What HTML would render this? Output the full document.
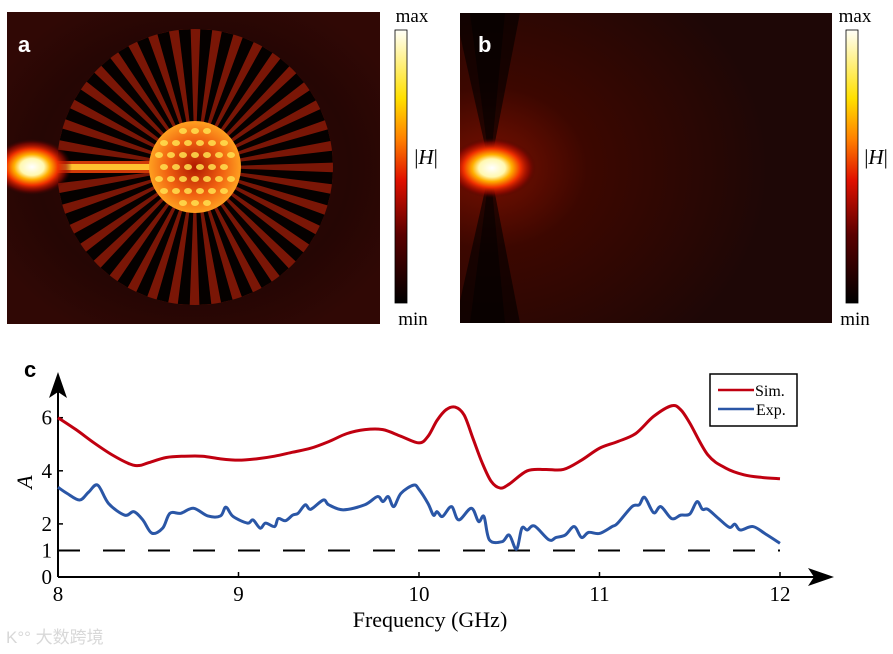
<!DOCTYPE html>
<html><head><meta charset="utf-8">
<style>
html,body{margin:0;padding:0;background:#fff;}
body{width:893px;height:654px;position:relative;overflow:hidden;font-family:"Liberation Serif",serif;}
svg{position:absolute;left:0;top:0;}
</style></head>
<body>
<svg id="fig" width="893" height="654" viewBox="0 0 893 654" xmlns="http://www.w3.org/2000/svg">
<defs>
<linearGradient id="cbar" x1="0" y1="1" x2="0" y2="0">
<stop offset="0" stop-color="#000"/><stop offset="0.25" stop-color="#5a0000"/><stop offset="0.45" stop-color="#e01000"/><stop offset="0.6" stop-color="#ff8000"/><stop offset="0.75" stop-color="#ffe000"/><stop offset="1" stop-color="#fffff8"/>
</linearGradient>
<radialGradient id="srcA" cx="0.5" cy="0.5" r="0.5">
<stop offset="0" stop-color="#ffffff"/><stop offset="0.3" stop-color="#fff8b0"/><stop offset="0.45" stop-color="#ffb000"/><stop offset="0.65" stop-color="#f03000"/><stop offset="0.85" stop-color="#a00800" stop-opacity="0.6"/><stop offset="1" stop-color="#400000" stop-opacity="0"/>
</radialGradient>
<radialGradient id="bgB" cx="0.08" cy="0.5" r="0.75">
<stop offset="0" stop-color="#7a1000"/><stop offset="0.35" stop-color="#3c0700"/><stop offset="1" stop-color="#1e0706"/>
</radialGradient>
<radialGradient id="bgA" cx="0.5" cy="0.5" r="0.6">
<stop offset="0" stop-color="#3a0804"/><stop offset="0.7" stop-color="#250604"/><stop offset="1" stop-color="#300805"/>
</radialGradient>
<radialGradient id="core" cx="0.5" cy="0.5" r="0.5">
<stop offset="0" stop-color="#b01800"/><stop offset="0.6" stop-color="#f06010"/><stop offset="1" stop-color="#ffa020"/>
</radialGradient>
<clipPath id="clipA"><rect x="7" y="12" width="373" height="312"/></clipPath>
<clipPath id="clipB"><rect x="460" y="13" width="372" height="310"/></clipPath>
</defs>

<!-- Panel a -->
<g clip-path="url(#clipA)">
<rect x="7" y="12" width="373" height="312" fill="url(#bgA)"/>
<g id="ring"></g>
<rect x="20" y="161" width="130" height="12" fill="#d03a08"/>
<rect x="55" y="164" width="95" height="6" fill="#ffc030"/>
<ellipse cx="32" cy="167" rx="40" ry="28" fill="url(#srcA)"/>
<circle cx="195" cy="167" r="46" fill="url(#core)"/>
<g id="coreDots"></g>
</g>
<text x="18" y="52" font-family="Liberation Sans, sans-serif" font-weight="bold" font-size="22" fill="#fff">a</text>
<rect x="395" y="30" width="12" height="273" fill="url(#cbar)" stroke="#000" stroke-width="0.8"/>
<text x="412" y="22" font-size="19" text-anchor="middle">max</text>
<text x="413" y="325" font-size="19" text-anchor="middle">min</text>
<text x="426" y="164" font-size="21" text-anchor="middle">|<tspan font-style="italic">H</tspan>|</text>

<!-- Panel b -->
<g clip-path="url(#clipB)">
<rect x="460" y="13" width="372" height="310" fill="url(#bgB)"/>
<polygon points="490,168 455,13 520,13" fill="#000" opacity="0.6"/>
<polygon points="490,168 470,13 505,13" fill="#000" opacity="0.5"/>
<polygon points="490,168 455,323 520,323" fill="#000" opacity="0.6"/>
<polygon points="490,168 470,323 505,323" fill="#000" opacity="0.5"/>
<ellipse cx="492" cy="168" rx="44" ry="30" fill="url(#srcA)"/>
</g>
<text x="478" y="52" font-family="Liberation Sans, sans-serif" font-weight="bold" font-size="22" fill="#fff">b</text>
<rect x="846" y="30" width="12" height="273" fill="url(#cbar)" stroke="#000" stroke-width="0.8"/>
<text x="855" y="22" font-size="19" text-anchor="middle">max</text>
<text x="855" y="325" font-size="19" text-anchor="middle">min</text>
<text x="876" y="164" font-size="21" text-anchor="middle">|<tspan font-style="italic">H</tspan>|</text>

<!-- Panel c -->
<text x="24" y="377" font-family="Liberation Sans, sans-serif" font-weight="bold" font-size="22">c</text>
<g id="chart"></g>
<text x="430" y="627" font-size="22" text-anchor="middle">Frequency (GHz)</text>
<text transform="translate(32,482) rotate(-90)" font-size="22" font-style="italic" text-anchor="middle">A</text>
<g>
<rect x="710" y="374" width="87" height="52" fill="#fff" stroke="#000" stroke-width="1.5"/>
<line x1="718" y1="390" x2="754" y2="390" stroke="#c00010" stroke-width="2.5"/>
<text x="755" y="396" font-size="16">Sim.</text>
<line x1="718" y1="409" x2="754" y2="409" stroke="#2a56a6" stroke-width="2.5"/>
<text x="756" y="415" font-size="16">Exp.</text>
</g>
<text x="6" y="643" font-family="Liberation Sans, 'Noto Sans CJK SC', sans-serif" font-size="17" fill="#d8d8d8">K°° 大数跨境</text>
</svg>
<script>
const simFreq=[8.0,8.1,8.2,8.3,8.4,8.45,8.5,8.6,8.7,8.8,8.9,9.0,9.1,9.2,9.3,9.4,9.5,9.6,9.7,9.8,9.9,10.0,10.05,10.1,10.15,10.2,10.25,10.3,10.35,10.4,10.45,10.5,10.6,10.7,10.8,10.9,11.0,11.1,11.2,11.3,11.4,11.45,11.5,11.6,11.7,11.8,11.9,12.0];
const simA=[6.0,5.55,5.05,4.6,4.25,4.2,4.3,4.5,4.55,4.55,4.45,4.4,4.45,4.55,4.7,4.85,5.1,5.4,5.55,5.55,5.3,5.05,5.3,5.9,6.3,6.4,6.1,5.2,4.3,3.6,3.35,3.5,4.0,4.05,4.05,4.4,4.85,5.1,5.4,6.05,6.45,6.3,5.8,4.6,4.1,3.85,3.75,3.7];
const expFreq=[8.0,8.05,8.12,8.17,8.22,8.28,8.37,8.42,8.47,8.52,8.58,8.62,8.68,8.75,8.83,8.9,8.93,8.97,9.05,9.08,9.12,9.15,9.2,9.22,9.26,9.3,9.33,9.37,9.4,9.47,9.5,9.58,9.7,9.77,9.8,9.83,9.86,9.9,9.97,10.0,10.05,10.08,10.1,10.13,10.18,10.22,10.29,10.33,10.36,10.39,10.46,10.5,10.54,10.57,10.6,10.64,10.72,10.76,10.81,10.86,10.9,10.94,11.0,11.07,11.1,11.18,11.22,11.25,11.3,11.34,11.4,11.45,11.5,11.54,11.57,11.6,11.66,11.72,11.75,11.78,11.85,11.92,12.0];
const expA=[3.38,3.15,2.9,3.2,3.46,2.77,2.33,2.46,2.15,1.65,1.84,2.4,2.4,2.59,2.3,2.3,2.63,2.28,2.03,2.15,1.84,2.03,1.9,2.2,2.12,2.33,2.4,2.72,2.55,2.9,2.72,2.53,2.72,3.03,2.84,3.03,2.65,3.15,3.46,3.3,2.77,2.33,2.46,2.28,2.65,2.15,2.59,2.09,2.28,1.4,1.33,1.58,1.05,1.84,1.77,1.92,1.4,1.49,1.58,1.9,1.49,1.68,1.64,1.9,2.02,2.65,2.72,3.0,2.42,2.65,2.2,2.33,2.37,2.84,2.55,2.55,2.2,1.87,1.99,1.77,1.9,1.62,1.27];
const xTicks=[8,9,10,11,12];
const yTicks=[0,1,2,4,6];
const refLevel=1;

const NS="http://www.w3.org/2000/svg";
const xS=f=>58+(f-8)*180.5;
const yS=a=>577-a*26.55;
const chart=document.getElementById('chart');
function mk(tag,attrs,parent){const e=document.createElementNS(NS,tag);for(const k in attrs)e.setAttribute(k,attrs[k]);(parent||chart).appendChild(e);return e;}

let e=mk('line',{x1:58,y1:577,x2:820,y2:577,stroke:'#000','stroke-width':2});


e=mk('polygon',{points:'834,577 808,568 814,577 808,586',fill:'#000'});


e=mk('line',{x1:58,y1:577,x2:58,y2:385,stroke:'#000','stroke-width':2});


e=mk('polygon',{points:'58,372 49,398 58,392 67,398',fill:'#000'});


xTicks.forEach(t=>{
  const l=mk('line',{x1:xS(t),y1:577,x2:xS(t),y2:572,stroke:'#000','stroke-width':1.5});
  
  
  const tx=mk('text',{x:xS(t),y:601,'font-size':21,'text-anchor':'middle'});
  tx.textContent=t;
  
  
});
yTicks.forEach(t=>{
  const l=mk('line',{x1:58,y1:yS(t),x2:63,y2:yS(t),stroke:'#000','stroke-width':1.5});
  
  
  const tx=mk('text',{x:52,y:yS(t)+7,'font-size':21,'text-anchor':'end'});
  tx.textContent=t;
  
  
});
e=mk('line',{x1:xS(8),y1:yS(refLevel),x2:xS(12),y2:yS(refLevel),stroke:'#000','stroke-width':2,'stroke-dasharray':'22,23'});



function smoothPath(xs,ys){
  const p=xs.map((f,i)=>[xS(f),yS(ys[i])]);
  let d='M'+p[0][0]+','+p[0][1];
  for(let i=0;i<p.length-1;i++){
    const p0=p[i-1]||p[i],p1=p[i],p2=p[i+1],p3=p[i+2]||p2;
    const c1=[p1[0]+(p2[0]-p0[0])/6,p1[1]+(p2[1]-p0[1])/6];
    const c2=[p2[0]-(p3[0]-p1[0])/6,p2[1]-(p3[1]-p1[1])/6];
    d+=' C'+c1+' '+c2+' '+p2;
  }
  return d;
}
e=mk('path',{d:smoothPath(simFreq,simA),fill:'none',stroke:'#c00010','stroke-width':3,'stroke-linejoin':'round'});


e=mk('path',{d:smoothPath(expFreq,expA),fill:'none',stroke:'#2a56a6','stroke-width':3,'stroke-linejoin':'round'});



const ring=document.getElementById('ring');
const cx=195,cy=167,R=138,r0=44,N=40;
mk('circle',{cx:cx,cy:cy,r:R,fill:'#7a1606'},ring);
for(let k=0;k<N;k++){
  const a0=Math.PI+(k+0.5)*2*Math.PI/N-0.04, a1=a0+2*Math.PI/N*0.55;
  const pts=[[r0,a0],[R,a0],[R,a1],[r0,a1]].map(([r,a])=>(cx+r*Math.cos(a)).toFixed(1)+','+(cy+r*Math.sin(a)).toFixed(1)).join(' ');
  const w=mk('polygon',{points:pts,fill:'#050100'},ring);
  
  
}
const dots=document.getElementById('coreDots');
for(let i=0;i<7;i++)for(let j=0;j<7;j++){
  const x=cx-36+i*12+(j%2)*5,y=cy-36+j*12;
  if((x-cx)**2+(y-cy)**2<40*40){
    const d=mk('ellipse',{cx:x,cy:y,rx:4,ry:3,fill:'#ffe050',opacity:0.85},dots);
    
    
  }
}
</script>
</body></html>
